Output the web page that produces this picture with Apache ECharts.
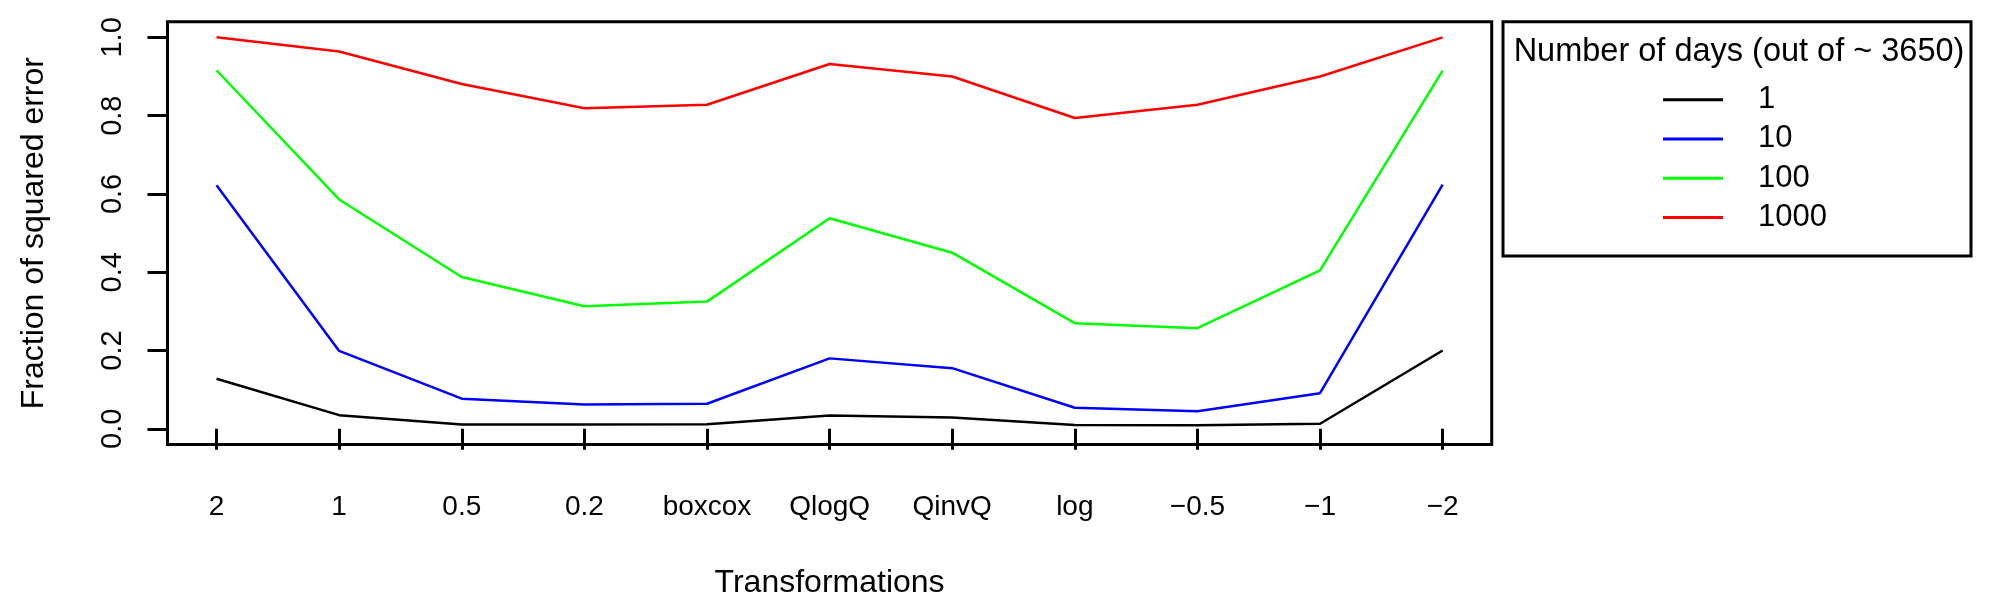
<!DOCTYPE html>
<html>
<head>
<meta charset="utf-8">
<script src="https://cdn.jsdelivr.net/npm/echarts@6/dist/echarts.min.js"></script>
<style>
html,body{margin:0;padding:0;background:#fff;}
#chart{width:1990px;height:611px;}
</style>
</head>
<body>
<div id="chart"></div>
<script>
const categories = ['2', '1', '0.5', '0.2', 'boxcox', 'QlogQ', 'QinvQ', 'log', '\u22120.5', '\u22121', '\u22122'];
const seriesNames = ['1', '10', '100', '1000'];
const days1    = [0.128, 0.035, 0.011, 0.011, 0.012, 0.034, 0.029, 0.010, 0.009, 0.013, 0.200];
const days10   = [0.622, 0.199, 0.077, 0.062, 0.064, 0.180, 0.155, 0.054, 0.045, 0.091, 0.624];
const days100  = [0.916, 0.586, 0.388, 0.313, 0.325, 0.538, 0.450, 0.270, 0.257, 0.405, 0.915];
const days1000 = [1.000, 0.964, 0.881, 0.819, 0.828, 0.932, 0.900, 0.794, 0.828, 0.900, 1.000];
const yTicks = [0, 0.2, 0.4, 0.6, 0.8, 1.0];
const colors = ['#000000', '#0000FF', '#00FF00', '#FF0000'];
const legendTitle = 'Number of days (out of ~ 3650)';
const xTitle = 'Transformations';
const yTitle = 'Fraction of squared error';

const FONT = 'Liberation Sans, Arial, Helvetica, sans-serif';
const xPositions = categories.map((c, i) => i + 1);
const allSeries = [days1, days10, days100, days1000];

const chart = echarts.init(document.getElementById('chart'), null, {renderer: 'canvas'});
chart.setOption({
  animation: false,
  backgroundColor: '#ffffff',
  grid: {
    left: 167.5, top: 21.7, right: 1990 - 1491.7, bottom: 611 - 444.5,
    show: true, borderColor: '#000', borderWidth: 3, backgroundColor: 'transparent'
  },
  title: {
    text: legendTitle,
    left: 1734, top: 31, textAlign: 'center',
    textStyle: {fontFamily: FONT, fontSize: 32.5, fontWeight: 'normal', color: '#000'}
  },
  legend: {
    orient: 'vertical',
    left: 1663, top: 80,
    padding: 0,
    itemGap: 0,
    icon: 'rect',
    itemWidth: 60, itemHeight: 3,
    data: seriesNames,
    textStyle: {fontFamily: FONT, fontSize: 31, color: '#000', lineHeight: 39.3, padding: [0, 0, 0, 30]}
  },
  graphic: [{
    type: 'rect', silent: true,
    shape: {x: 1503, y: 21.7, width: 468, height: 234.3},
    style: {fill: 'none', stroke: '#000', lineWidth: 3},
    z: 100
  }],
  xAxis: {
    type: 'value', min: 0.6, max: 11.4,
    name: xTitle, nameLocation: 'middle', nameGap: 123,
    nameTextStyle: {fontFamily: FONT, fontSize: 32, color: '#000'},
    axisLine: {show: false},
    splitLine: {show: false},
    axisTick: {show: true, inside: false, length: 21, customValues: xPositions, lineStyle: {color: '#000', width: 3}},
    axisLabel: {
      customValues: xPositions, margin: 49,
      fontFamily: FONT, fontSize: 28, color: '#000',
      formatter: v => categories[Math.round(v) - 1]
    }
  },
  yAxis: {
    type: 'value', min: -0.04, max: 1.04,
    name: yTitle, nameLocation: 'middle', nameGap: 117,
    nameTextStyle: {fontFamily: FONT, fontSize: 32, color: '#000'},
    axisLine: {show: false},
    splitLine: {show: false},
    axisTick: {show: true, inside: false, length: 20, customValues: yTicks, lineStyle: {color: '#000', width: 3}},
    axisLabel: {
      customValues: yTicks, margin: 40, rotate: 90,
      fontFamily: FONT, fontSize: 29, color: '#000',
      formatter: v => v.toFixed(1)
    }
  },
  series: allSeries.map((vals, k) => ({
    name: seriesNames[k],
    type: 'line',
    symbol: 'none',
    data: vals.map((v, i) => [xPositions[i], v]),
    lineStyle: {color: colors[k], width: 2.5},
    itemStyle: {color: colors[k]}
  }))
});
</script>
</body>
</html>
